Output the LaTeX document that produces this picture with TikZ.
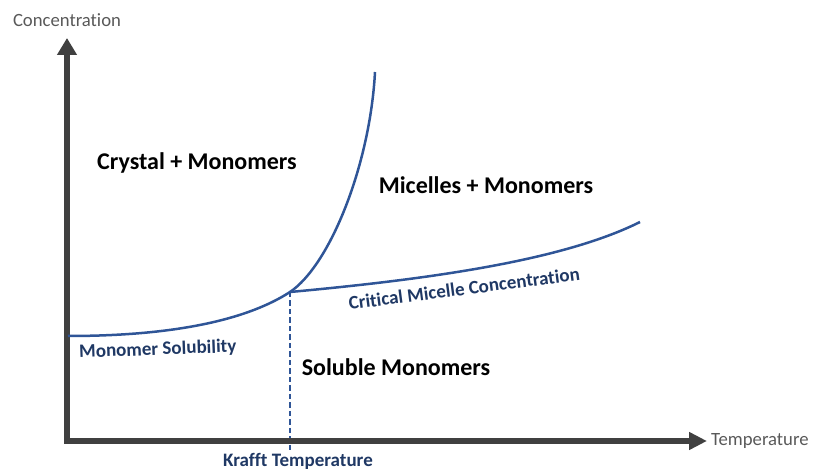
\documentclass[tikz,border=0pt]{standalone}
\usepackage{fontspec}
\setmainfont{Carlito}[Ligatures=NoCommon]
\usetikzlibrary{arrows.meta}

\definecolor{axisgrey}{RGB}{64,64,64}
\definecolor{labelgrey}{RGB}{89,89,89}
\definecolor{curveblue}{RGB}{47,85,151}
\definecolor{textblue}{RGB}{31,56,100}

\begin{document}
\begin{tikzpicture}[x=1pt, y=1pt]
  \useasboundingbox (-67,-30) rectangle (747,441);
  \tikzset{
    axis/.style={axisgrey, line width=6pt, line join=miter},
    curve/.style={curveblue, line width=2.5pt},
    guide/.style={curveblue, line width=2.3pt, dash pattern=on 5.5pt off 3pt},
    axislab/.style={labelgrey, font=\fontsize{18.7}{22}\selectfont, inner sep=0pt},
    region/.style={black, font=\fontsize{24}{28}\selectfont\bfseries, inner sep=0pt},
    curvelab/.style={textblue, font=\fontsize{19}{22}\selectfont\bfseries, inner sep=0pt}
  }

  % --- corner of the axes, ends of the arrows and the Krafft point
  \coordinate (O)     at (0,0);
  \coordinate (ytip)  at (0,403);
  \coordinate (xtip)  at (640,0);
  \coordinate (K)     at (223,149);
  \coordinate (Kfoot) at (223,-12);

  % --- ends of the two phase boundaries
  \coordinate (S0) at (1,105);
  \coordinate (S1) at (308,369);
  \coordinate (C1) at (573,219);

  % --- dashed drop from the Krafft point (under the axis)
  \draw[guide] (K) -- (Kfoot);

  % --- axes
  \draw[axis, {Triangle[length=17pt,width=19pt]}-{Triangle[length=18pt,width=17pt]}]
    (ytip) -- (O) -- (xtip);

  % --- solubility curve and CMC curve
  \draw[curve] (S0) .. controls (113,105) and (183,123) .. (K)
                    .. controls (263,176) and (303,276) .. (S1);
  \draw[curve] (K) .. controls (353,161) and (493,179) .. (C1);

  % --- axis labels
  \node[axislab] (ylab) at (0,421) {Concentration};
  \node[axislab, anchor=base west] (xlab) at (644,-5) {Temperature};

  % --- regions
  \node[region, anchor=base] (crystal)  at (130,271) {Crystal + Monomers};
  \node[region, anchor=base] (micelles) at (419,247) {Micelles + Monomers};
  \node[region, anchor=base] (soluble)  at (329,65)  {Soluble Monomers};

  % --- curve labels
  \node[curvelab, anchor=base, rotate=2]   (sol)    at (91,86)   {Monomer Solubility};
  \node[curvelab, anchor=base, rotate=7.4] (cmc)    at (398,146) {Critical Micelle Concentration};
  \node[curvelab, anchor=base]             (krafft) at (231,-26) {Krafft Temperature};

\end{tikzpicture}
\end{document}
